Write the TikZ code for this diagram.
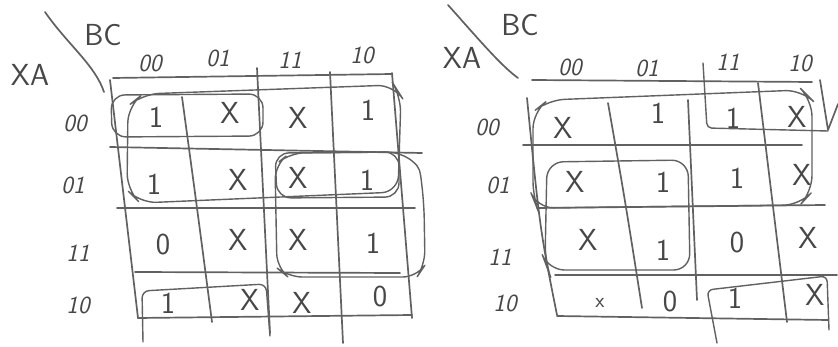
\documentclass[tikz,border=0pt]{standalone}
\begin{document}
\begin{tikzpicture}[x=0.03cm,y=-0.03cm,
  ink/.style={draw=black!62, line width=1.45pt, line cap=round, line join=round},
  loop/.style={draw=black!62, line width=1.2pt, line cap=round, line join=round},
  val/.style={font=\sffamily\fontsize{26}{26}\selectfont, text=black!72, inner sep=0pt},
  lab/.style={font=\sffamily\itshape\fontsize{21}{21}\selectfont, text=black!72, inner sep=0pt},
  big/.style={font=\sffamily\fontsize{26}{26}\selectfont, text=black!72, inner sep=0pt}]
\useasboundingbox (0,0) rectangle (838,347);
\fill[white] (0,0) rectangle (838,347);

% ================= LEFT MAP =================
% corner divider
\draw[ink] (45,12) .. controls (68,45) and (95,65) .. (104,92);
\node[big] (lbc) at (103,35) {BC};
\node[big] (lxa) at (30,75) {XA};
% column headers
\node[lab] (lc1) at (150,63) {00};
\node[lab] (lc2) at (218,58) {01};
\node[lab] (lc3) at (290,60) {11};
\node[lab] (lc4) at (362,55) {10};
% row headers
\node[lab] (lr1) at (75,123) {00};
\node[lab] (lr2) at (73,185) {01};
\node[lab] (lr3) at (78,253) {11};
\node[lab] (lr4) at (78,305) {10};
% grid
\draw[ink] (113,78) -- (392,74);
\draw[ink] (110,80) -- (138,318);
\draw[ink] (138,318) -- (412,315);
\draw[ink] (392,73) -- (412,318);
\draw[ink] (182,97) .. controls (196,200) .. (212,322);
\draw[ink] (257,68) .. controls (263,200) .. (270,333);
\draw[ink] (330,72) -- (343,343);
\draw[ink] (110,147) -- (422,153);
\draw[ink] (117,208) -- (415,208);
\draw[ink] (135,272) -- (400,273);
% cell values
\node[val] (l11) at (156,117) {1};
\node[val] (l12) at (230,113) {X};
\node[val] (l13) at (298,118) {X};
\node[val] (l14) at (368,110) {1};
\node[val] (l21) at (154,184) {1};
\node[val] (l22) at (238,180) {X};
\node[val] (l23) at (298,178) {X};
\node[val] (l24) at (367,180) {1};
\node[val] (l31) at (163,245) {0};
\node[val] (l32) at (238,240) {X};
\node[val] (l33) at (298,240) {X};
\node[val] (l34) at (373,243) {1};
\node[val] (l41) at (168,303) {1};
\node[val] (l42) at (250,300) {X};
\node[val] (l43) at (302,303) {X};
\node[val] (l44) at (380,297) {0};
% groupings
\draw[loop, rounded corners=12] (111,95) -- (263,94) -- (263,136) -- (112,137) -- cycle;
\draw[loop, rounded corners=14] (143,94) -- (394,85) -- (401,96) -- (398,192) -- (140,203) -- (127,190) -- (128,106) -- cycle;
\draw[loop, rounded corners=12] (275,153) -- (399,152) -- (399,197) -- (277,198) -- cycle;
\draw[loop, rounded corners=12] (290,153) -- (402,152) .. controls (420,168) .. (424,205) -- (425,265) -- (417,277) -- (288,277) -- (277,268) -- (275,165) -- cycle;
\draw[loop, rounded corners=6] (143,342) -- (142,291) -- (266,284) -- (270,336);

% ================= RIGHT MAP =================
\draw[ink] (448,5) .. controls (475,35) and (500,65) .. (518,78);
\node[big] (rbc) at (520,25) {BC};
\node[big] (rxa) at (462,58) {XA};
\node[lab] (rc1) at (570,67) {00};
\node[lab] (rc2) at (647,68) {01};
\node[lab] (rc3) at (728,62) {11};
\node[lab] (rc4) at (800,63) {10};
\node[lab] (rr1) at (487,127) {00};
\node[lab] (rr2) at (498,185) {01};
\node[lab] (rr3) at (500,257) {11};
\node[lab] (rr4) at (505,303) {10};
% grid
\draw[ink] (532,80) -- (812,82);
\draw[ink] (527,98) .. controls (540,230) .. (557,315);
\draw[ink] (557,316) -- (828,320);
\draw[ink] (608,103) .. controls (625,200) .. (642,308);
\draw[ink] (688,100) -- (697,300);
\draw[ink] (758,83) -- (787,322);
\draw[ink] (820,80) -- (828,130) -- (838,104);
\draw[ink] (523,145) -- (802,145);
\draw[ink] (537,208) -- (825,205);
\draw[ink] (555,275) -- (837,275);
% cell values
\node[val] (r11) at (563,128) {X};
\node[val] (r12) at (658,113) {1};
\node[val] (r13) at (733,118) {1};
\node[val] (r14) at (797,117) {X};
\node[val] (r21) at (575,182) {X};
\node[val] (r22) at (663,182) {1};
\node[val] (r23) at (737,178) {1};
\node[val] (r24) at (802,175) {X};
\node[val] (r31) at (588,240) {X};
\node[val] (r32) at (663,250) {1};
\node[val] (r33) at (737,243) {0};
\node[val] (r34) at (808,238) {X};
\node[val, font=\sffamily\fontsize{18}{18}\selectfont] (r41) at (600,303) {x};
\node[val] (r42) at (670,302) {0};
\node[val] (r43) at (735,298) {1};
\node[val] (r44) at (815,295) {X};
% groupings
\draw[loop, rounded corners=4] (703,63) -- (707,128) -- (828,131);
\draw[loop, rounded corners=14] (548,100) -- (802,90) -- (812,100) -- (812,192) -- (800,205) -- (537,208) -- (533,198) -- (533,112) -- cycle;
\draw[loop, rounded corners=14] (547,162) -- (688,160) -- (690,270) -- (548,270) -- (545,262) -- cycle;
\draw[loop, rounded corners=5] (717,343) -- (707,290) -- (827,276) -- (829,330);
\end{tikzpicture}
\end{document}
